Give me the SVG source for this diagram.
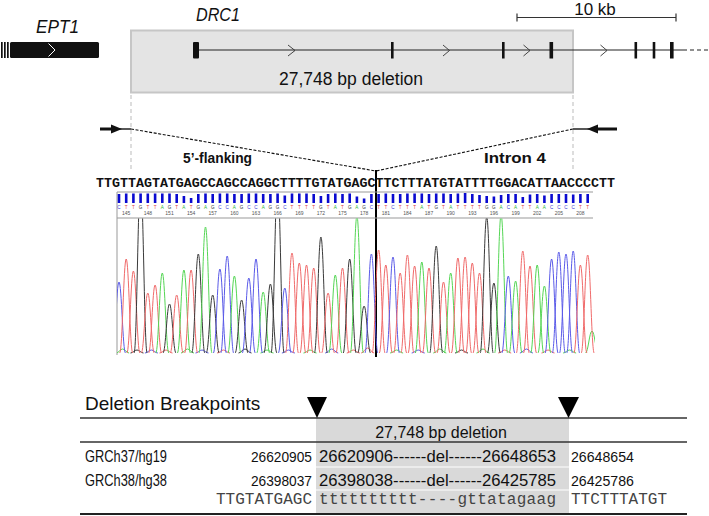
<svg xmlns="http://www.w3.org/2000/svg" xmlns:xlink="http://www.w3.org/1999/xlink" width="709" height="516" viewBox="0 0 709 516">
<style>
.sans{font-family:"Liberation Sans",Arial,sans-serif;fill:#111}
.ital{font-style:italic}
.bold{font-weight:bold}
.mono{font-family:"Liberation Mono","Courier New",monospace}
.r{stroke:#f06a6a}.g{stroke:#55d655}.b{stroke:#5a5ae8}.k{stroke:#3a3a3a}
.tr{fill:#e04040}.tg{fill:#2fb52f}.tb{fill:#4040d0}.tk{fill:#333}
.lt{font-family:"Liberation Sans",Arial,sans-serif;font-size:4.6px;text-anchor:middle}
.num{font-family:"Liberation Sans",Arial,sans-serif;font-size:5px;fill:#555;text-anchor:middle}
.bar{fill:#0a0ad0}
.chev{fill:none;stroke:#333;stroke-width:0.9}
</style>
<defs>
<path id="pk" d="M-6.5,0 C-3.8,0 -2.6,-1 0,-1 C2.6,-1 3.8,0 6.5,0" fill="none" stroke-width="1" vector-effect="non-scaling-stroke"/>
<clipPath id="trc"><rect x="117" y="218.5" width="478" height="142"/></clipPath>
</defs>

<!-- Gene map -->
<g id="ept1">
<text class="sans ital" x="36" y="33" font-size="19" textLength="43" lengthAdjust="spacingAndGlyphs">EPT1</text>
<rect x="1" y="42" width="1.7" height="16" fill="#111"/>
<rect x="4" y="42" width="1.7" height="16" fill="#111"/>
<rect x="7" y="42" width="1.7" height="16" fill="#111"/>
<rect x="10" y="42" width="89" height="16" rx="1.5" fill="#111"/>
<polyline points="48.5,43.5 55,50 48.5,56.5" fill="none" stroke="#fff" stroke-width="1"/>
</g>

<g id="deletion-box">
<rect x="131" y="30.5" width="442" height="62" fill="#e4e4e4" stroke="#c6c6c6" stroke-width="2"/>
<text class="sans" x="351" y="85" font-size="17.5" text-anchor="middle">27,748 bp deletion</text>
</g>

<g id="drc1">
<text class="sans ital" x="196" y="21" font-size="19" textLength="44" lengthAdjust="spacingAndGlyphs">DRC1</text>
<line x1="196" y1="50" x2="683" y2="50" stroke="#222" stroke-width="1.2"/>
<line x1="683" y1="50" x2="709" y2="50" stroke="#222" stroke-width="1.2" stroke-dasharray="4,3"/>
<rect x="193" y="42" width="6" height="16.5" rx="1" fill="#111"/>
<rect x="391" y="42" width="2.6" height="16.5" fill="#111"/>
<rect x="502" y="42" width="2.6" height="16.5" fill="#111"/>
<rect x="549.5" y="42" width="3.6" height="16.5" fill="#111"/>
<rect x="634.5" y="42" width="2.6" height="16.5" fill="#111"/>
<rect x="652.7" y="42" width="2.6" height="16.5" fill="#111"/>
<rect x="670" y="42" width="3.6" height="16.5" fill="#111"/>
<polyline class="chev" points="288,45 295,50.5 288,56"/>
<polyline class="chev" points="443,45 449.5,50.5 443,56"/>
<polyline class="chev" points="523.5,45 530,50.5 523.5,56"/>
<polyline class="chev" points="600.5,45 607,50.5 600.5,56"/>
</g>

<g id="scale-bar">
<text class="sans" x="595" y="15" font-size="17" text-anchor="middle">10 kb</text>
<line x1="517" y1="17.5" x2="676" y2="17.5" stroke="#333" stroke-width="1.2"/>
<line x1="517" y1="13.5" x2="517" y2="21.5" stroke="#333" stroke-width="1.2"/>
<line x1="676" y1="13.5" x2="676" y2="21.5" stroke="#333" stroke-width="1.2"/>
</g>

<!-- Connectors / zoom lines -->
<g id="connectors">
<line x1="131" y1="95" x2="131" y2="170" stroke="#bbb" stroke-width="1" stroke-dasharray="4,3"/>
<line x1="573" y1="95" x2="573" y2="170" stroke="#bbb" stroke-width="1" stroke-dasharray="4,3"/>
<line x1="131" y1="129" x2="376" y2="171" stroke="#111" stroke-width="1.1" stroke-dasharray="3,1.6"/>
<line x1="573" y1="129" x2="376" y2="171" stroke="#111" stroke-width="1.1" stroke-dasharray="3,1.6"/>
<line x1="100" y1="129" x2="116" y2="129" stroke="#111" stroke-width="3"/>
<line x1="115" y1="129" x2="131" y2="129" stroke="#111" stroke-width="1.4"/>
<polygon points="111,124.5 122,129 111,133.5" fill="#111"/>
<line x1="592" y1="129" x2="617" y2="129" stroke="#111" stroke-width="3"/>
<line x1="573" y1="129" x2="592" y2="129" stroke="#111" stroke-width="1.4"/>
<polygon points="598,124.5 587,129 598,133.5" fill="#111"/>
<line x1="376" y1="170" x2="376" y2="357" stroke="#000" stroke-width="2"/>
</g>

<g id="labels">
<text class="sans bold" x="183" y="163" font-size="14" textLength="69" lengthAdjust="spacingAndGlyphs">5’-flanking</text>
<text class="sans bold" x="484" y="163" font-size="15" textLength="62" lengthAdjust="spacingAndGlyphs">Intron 4</text>
<text class="mono bold" x="96" y="187" font-size="13.3" fill="#111" textLength="519" lengthAdjust="spacingAndGlyphs">TTGTTAGTATGAGCCAGCCAGGCTTTTGTATGAGCTTCTTTATGTATTTTGGACATTAACCCCTT</text>
</g>

<!-- Chromatogram -->
<g id="chromatogram">
<line x1="117" y1="192" x2="593" y2="192" stroke="#999" stroke-width="1"/>
<line x1="117" y1="218" x2="593" y2="218" stroke="#999" stroke-width="1"/>
<line x1="117" y1="192" x2="117" y2="355" stroke="#999" stroke-width="1"/>
<g id="quality-bars">
<rect class="bar" x="117.7" y="194" width="2.6" height="9"/>
<rect class="bar" x="124.9" y="193.5" width="2.6" height="9.5"/>
<rect class="bar" x="132.1" y="193.5" width="2.6" height="9.5"/>
<rect class="bar" x="139.3" y="193.5" width="2.6" height="9.5"/>
<rect class="bar" x="146.5" y="193.5" width="2.6" height="9.5"/>
<rect class="bar" x="153.8" y="193.5" width="2.6" height="9.5"/>
<rect class="bar" x="161" y="193.5" width="2.6" height="9.5"/>
<rect class="bar" x="168.2" y="193.5" width="2.6" height="9.5"/>
<rect class="bar" x="175.4" y="194" width="2.6" height="9"/>
<rect class="bar" x="182.6" y="196" width="2.6" height="7"/>
<rect class="bar" x="189.8" y="198" width="2.6" height="5"/>
<rect class="bar" x="197" y="194" width="2.6" height="9"/>
<rect class="bar" x="204.2" y="193.5" width="2.6" height="9.5"/>
<rect class="bar" x="211.4" y="194" width="2.6" height="9"/>
<rect class="bar" x="218.6" y="193.5" width="2.6" height="9.5"/>
<rect class="bar" x="225.9" y="193.5" width="2.6" height="9.5"/>
<rect class="bar" x="233.1" y="194" width="2.6" height="9"/>
<rect class="bar" x="240.3" y="194" width="2.6" height="9"/>
<rect class="bar" x="247.5" y="193.5" width="2.6" height="9.5"/>
<rect class="bar" x="254.7" y="193.5" width="2.6" height="9.5"/>
<rect class="bar" x="261.9" y="194" width="2.6" height="9"/>
<rect class="bar" x="269.1" y="194" width="2.6" height="9"/>
<rect class="bar" x="276.3" y="193.5" width="2.6" height="9.5"/>
<rect class="bar" x="283.5" y="195.5" width="2.6" height="7.5"/>
<rect class="bar" x="290.7" y="193.5" width="2.6" height="9.5"/>
<rect class="bar" x="298" y="193.5" width="2.6" height="9.5"/>
<rect class="bar" x="305.2" y="193.5" width="2.6" height="9.5"/>
<rect class="bar" x="312.4" y="194" width="2.6" height="9"/>
<rect class="bar" x="319.6" y="196" width="2.6" height="7"/>
<rect class="bar" x="326.8" y="194" width="2.6" height="9"/>
<rect class="bar" x="334" y="193.5" width="2.6" height="9.5"/>
<rect class="bar" x="341.2" y="194" width="2.6" height="9"/>
<rect class="bar" x="348.4" y="193.5" width="2.6" height="9.5"/>
<rect class="bar" x="355.6" y="196.5" width="2.6" height="6.5"/>
<rect class="bar" x="362.8" y="198.5" width="2.6" height="4.5"/>
<rect class="bar" x="370.1" y="194" width="2.6" height="9"/>
<rect class="bar" x="377.3" y="194" width="2.6" height="9"/>
<rect class="bar" x="384.5" y="193.5" width="2.6" height="9.5"/>
<rect class="bar" x="391.7" y="194" width="2.6" height="9"/>
<rect class="bar" x="398.9" y="194" width="2.6" height="9"/>
<rect class="bar" x="406.1" y="193.5" width="2.6" height="9.5"/>
<rect class="bar" x="413.3" y="193.5" width="2.6" height="9.5"/>
<rect class="bar" x="420.5" y="193.5" width="2.6" height="9.5"/>
<rect class="bar" x="427.7" y="194" width="2.6" height="9"/>
<rect class="bar" x="434.9" y="193.5" width="2.6" height="9.5"/>
<rect class="bar" x="442.2" y="193.5" width="2.6" height="9.5"/>
<rect class="bar" x="449.4" y="194" width="2.6" height="9"/>
<rect class="bar" x="456.6" y="193.5" width="2.6" height="9.5"/>
<rect class="bar" x="463.8" y="193" width="2.6" height="10"/>
<rect class="bar" x="471" y="194" width="2.6" height="9"/>
<rect class="bar" x="478.2" y="195" width="2.6" height="8"/>
<rect class="bar" x="485.4" y="196" width="2.6" height="7"/>
<rect class="bar" x="492.6" y="196.5" width="2.6" height="6.5"/>
<rect class="bar" x="499.8" y="195" width="2.6" height="8"/>
<rect class="bar" x="507" y="194" width="2.6" height="9"/>
<rect class="bar" x="514.3" y="194" width="2.6" height="9"/>
<rect class="bar" x="521.5" y="197" width="2.6" height="6"/>
<rect class="bar" x="528.7" y="194.5" width="2.6" height="8.5"/>
<rect class="bar" x="535.9" y="194" width="2.6" height="9"/>
<rect class="bar" x="543.1" y="195.5" width="2.6" height="7.5"/>
<rect class="bar" x="550.3" y="194" width="2.6" height="9"/>
<rect class="bar" x="557.5" y="194" width="2.6" height="9"/>
<rect class="bar" x="564.7" y="194" width="2.6" height="9"/>
<rect class="bar" x="571.9" y="194.5" width="2.6" height="8.5"/>
<rect class="bar" x="579.1" y="194" width="2.6" height="9"/>
<rect class="bar" x="586.4" y="194" width="2.6" height="9"/>
</g>
<g id="base-calls">
<text class="lt" y="209" x="119.0 126.2 133.4 140.6 147.8 155.1 162.3 169.5 176.7 183.9 191.1 198.3 205.5 212.7 219.9 227.2 234.4 241.6 248.8 256.0 263.2 270.4 277.6 284.8 292.0 299.3 306.5 313.7 320.9 328.1 335.3 342.5 349.7 356.9 364.1 371.4 378.6 385.8 393.0 400.2 407.4 414.6 421.8 429.0 436.2 443.5 450.7 457.9 465.1 472.3 479.5 486.7 493.9 501.1 508.3 515.6 522.8 530.0 537.2 544.4 551.6 558.8 566.0 573.2 580.4 587.7"><tspan class="tb">C</tspan><tspan class="tr">TT</tspan><tspan class="tk">G</tspan><tspan class="tr">TT</tspan><tspan class="tg">A</tspan><tspan class="tk">G</tspan><tspan class="tr">T</tspan><tspan class="tg">A</tspan><tspan class="tr">T</tspan><tspan class="tk">G</tspan><tspan class="tg">A</tspan><tspan class="tk">G</tspan><tspan class="tb">CC</tspan><tspan class="tg">A</tspan><tspan class="tk">G</tspan><tspan class="tb">CC</tspan><tspan class="tg">A</tspan><tspan class="tk">GG</tspan><tspan class="tb">C</tspan><tspan class="tr">TTTT</tspan><tspan class="tk">G</tspan><tspan class="tr">T</tspan><tspan class="tg">A</tspan><tspan class="tr">T</tspan><tspan class="tk">G</tspan><tspan class="tg">A</tspan><tspan class="tk">G</tspan><tspan class="tb">C</tspan><tspan class="tr">TT</tspan><tspan class="tb">C</tspan><tspan class="tr">TTT</tspan><tspan class="tg">A</tspan><tspan class="tr">T</tspan><tspan class="tk">G</tspan><tspan class="tr">T</tspan><tspan class="tg">A</tspan><tspan class="tr">TTTT</tspan><tspan class="tk">GG</tspan><tspan class="tg">A</tspan><tspan class="tb">C</tspan><tspan class="tg">A</tspan><tspan class="tr">TT</tspan><tspan class="tg">AA</tspan><tspan class="tb">CCCC</tspan><tspan class="tr">TT</tspan></text>
</g>
<g id="positions">
<text class="num" x="126.2" y="215">145</text>
<text class="num" x="147.8" y="215">148</text>
<text class="num" x="169.5" y="215">151</text>
<text class="num" x="191.1" y="215">154</text>
<text class="num" x="212.7" y="215">157</text>
<text class="num" x="234.4" y="215">160</text>
<text class="num" x="256.0" y="215">163</text>
<text class="num" x="277.6" y="215">166</text>
<text class="num" x="299.3" y="215">169</text>
<text class="num" x="320.9" y="215">172</text>
<text class="num" x="342.5" y="215">175</text>
<text class="num" x="364.1" y="215">178</text>
<text class="num" x="385.8" y="215">181</text>
<text class="num" x="407.4" y="215">184</text>
<text class="num" x="429.0" y="215">187</text>
<text class="num" x="450.7" y="215">190</text>
<text class="num" x="472.3" y="215">193</text>
<text class="num" x="493.9" y="215">196</text>
<text class="num" x="515.6" y="215">199</text>
<text class="num" x="537.2" y="215">202</text>
<text class="num" x="558.8" y="215">205</text>
<text class="num" x="580.4" y="215">208</text>
</g>
<g id="traces" clip-path="url(#trc)">
<!-- baseline noise -->
<use xlink:href="#pk" class="g" transform="translate(122.6,353) scale(1,4)"/>
<use xlink:href="#pk" class="k" transform="translate(137,353) scale(1,3)"/>
<use xlink:href="#pk" class="b" transform="translate(151.4,353) scale(1,3)"/>
<use xlink:href="#pk" class="r" transform="translate(166,353) scale(1,3)"/>
<use xlink:href="#pk" class="g" transform="translate(187.5,353) scale(1,4)"/>
<use xlink:href="#pk" class="b" transform="translate(202,353) scale(1,3)"/>
<use xlink:href="#pk" class="r" transform="translate(223.5,353) scale(1,3)"/>
<use xlink:href="#pk" class="k" transform="translate(245,353) scale(1,4)"/>
<use xlink:href="#pk" class="g" transform="translate(267,353) scale(1,3)"/>
<use xlink:href="#pk" class="b" transform="translate(288.4,353) scale(1,3)"/>
<use xlink:href="#pk" class="g" transform="translate(310,353) scale(1,3)"/>
<use xlink:href="#pk" class="b" transform="translate(331.7,353) scale(1,4)"/>
<use xlink:href="#pk" class="r" transform="translate(353.3,353) scale(1,3)"/>
<use xlink:href="#pk" class="r" transform="translate(367.7,353) scale(1,5)"/>
<use xlink:href="#pk" class="g" transform="translate(396.6,353) scale(1,3)"/>
<use xlink:href="#pk" class="b" transform="translate(418.2,353) scale(1,3)"/>
<use xlink:href="#pk" class="g" transform="translate(439.8,353) scale(1,4)"/>
<use xlink:href="#pk" class="k" transform="translate(461.5,353) scale(1,3)"/>
<use xlink:href="#pk" class="g" transform="translate(483,353) scale(1,4)"/>
<use xlink:href="#pk" class="r" transform="translate(504.7,353) scale(1,3)"/>
<use xlink:href="#pk" class="b" transform="translate(526.4,353) scale(1,4)"/>
<use xlink:href="#pk" class="r" transform="translate(548,353) scale(1,3)"/>
<use xlink:href="#pk" class="g" transform="translate(569.6,353) scale(1,3)"/>
<use xlink:href="#pk" class="g" transform="translate(592,353) scale(1,22)"/>
<!-- called peaks -->
<use xlink:href="#pk" class="b" transform="translate(119.0,353) scale(1,71)"/>
<use xlink:href="#pk" class="r" transform="translate(126.2,353) scale(1,94)"/>
<use xlink:href="#pk" class="r" transform="translate(133.4,353) scale(1,82)"/>
<use xlink:href="#pk" class="k" transform="translate(140.6,353) scale(1,170)"/>
<use xlink:href="#pk" class="r" transform="translate(147.8,353) scale(1,60)"/>
<use xlink:href="#pk" class="r" transform="translate(155.1,353) scale(1,68)"/>
<use xlink:href="#pk" class="g" transform="translate(162.3,353) scale(1,80)"/>
<use xlink:href="#pk" class="k" transform="translate(169.5,353) scale(1,49)"/>
<use xlink:href="#pk" class="r" transform="translate(176.7,353) scale(1,58)"/>
<use xlink:href="#pk" class="g" transform="translate(183.9,353) scale(1,83)"/>
<use xlink:href="#pk" class="r" transform="translate(191.1,353) scale(1,83)"/>
<use xlink:href="#pk" class="k" transform="translate(198.3,353) scale(1,99)"/>
<use xlink:href="#pk" class="g" transform="translate(205.5,353) scale(1,126)"/>
<use xlink:href="#pk" class="k" transform="translate(212.7,353) scale(1,58)"/>
<use xlink:href="#pk" class="b" transform="translate(219.9,353) scale(1,84)"/>
<use xlink:href="#pk" class="b" transform="translate(227.2,353) scale(1,97)"/>
<use xlink:href="#pk" class="g" transform="translate(234.4,353) scale(1,77)"/>
<use xlink:href="#pk" class="k" transform="translate(241.6,353) scale(1,53)"/>
<use xlink:href="#pk" class="b" transform="translate(248.8,353) scale(1,75)"/>
<use xlink:href="#pk" class="b" transform="translate(256.0,353) scale(1,94)"/>
<use xlink:href="#pk" class="g" transform="translate(263.2,353) scale(1,61)"/>
<use xlink:href="#pk" class="k" transform="translate(270.4,353) scale(1,69)"/>
<use xlink:href="#pk" class="k" transform="translate(277.6,353) scale(1,170)"/>
<use xlink:href="#pk" class="b" transform="translate(284.8,353) scale(1,65)"/>
<use xlink:href="#pk" class="r" transform="translate(292.0,353) scale(1,100)"/>
<use xlink:href="#pk" class="r" transform="translate(299.3,353) scale(1,90)"/>
<use xlink:href="#pk" class="r" transform="translate(306.5,353) scale(1,88)"/>
<use xlink:href="#pk" class="r" transform="translate(313.7,353) scale(1,85)"/>
<use xlink:href="#pk" class="k" transform="translate(320.9,353) scale(1,116)"/>
<use xlink:href="#pk" class="r" transform="translate(328.1,353) scale(1,60)"/>
<use xlink:href="#pk" class="g" transform="translate(335.3,353) scale(1,78)"/>
<use xlink:href="#pk" class="r" transform="translate(342.5,353) scale(1,85)"/>
<use xlink:href="#pk" class="k" transform="translate(349.7,353) scale(1,94)"/>
<use xlink:href="#pk" class="g" transform="translate(356.9,353) scale(1,137)"/>
<use xlink:href="#pk" class="k" transform="translate(364.1,353) scale(1,47)"/>
<use xlink:href="#pk" class="b" transform="translate(371.4,353) scale(1,99)"/>
<use xlink:href="#pk" class="r" transform="translate(378.6,353) scale(1,103)"/>
<use xlink:href="#pk" class="r" transform="translate(385.8,353) scale(1,88)"/>
<use xlink:href="#pk" class="b" transform="translate(393.0,353) scale(1,96)"/>
<use xlink:href="#pk" class="r" transform="translate(400.2,353) scale(1,80)"/>
<use xlink:href="#pk" class="r" transform="translate(407.4,353) scale(1,98)"/>
<use xlink:href="#pk" class="r" transform="translate(414.6,353) scale(1,87)"/>
<use xlink:href="#pk" class="g" transform="translate(421.8,353) scale(1,91)"/>
<use xlink:href="#pk" class="r" transform="translate(429.0,353) scale(1,85)"/>
<use xlink:href="#pk" class="k" transform="translate(436.2,353) scale(1,107)"/>
<use xlink:href="#pk" class="r" transform="translate(443.5,353) scale(1,71)"/>
<use xlink:href="#pk" class="g" transform="translate(450.7,353) scale(1,80)"/>
<use xlink:href="#pk" class="r" transform="translate(457.9,353) scale(1,95)"/>
<use xlink:href="#pk" class="r" transform="translate(465.1,353) scale(1,96)"/>
<use xlink:href="#pk" class="r" transform="translate(472.3,353) scale(1,90)"/>
<use xlink:href="#pk" class="r" transform="translate(479.5,353) scale(1,80)"/>
<use xlink:href="#pk" class="k" transform="translate(486.7,353) scale(1,136)"/>
<use xlink:href="#pk" class="k" transform="translate(493.9,353) scale(1,70)"/>
<use xlink:href="#pk" class="g" transform="translate(501.1,353) scale(1,138)"/>
<use xlink:href="#pk" class="b" transform="translate(508.3,353) scale(1,77)"/>
<use xlink:href="#pk" class="g" transform="translate(515.6,353) scale(1,72)"/>
<use xlink:href="#pk" class="r" transform="translate(522.8,353) scale(1,102)"/>
<use xlink:href="#pk" class="r" transform="translate(530.0,353) scale(1,87)"/>
<use xlink:href="#pk" class="g" transform="translate(537.2,353) scale(1,88)"/>
<use xlink:href="#pk" class="g" transform="translate(544.4,353) scale(1,67)"/>
<use xlink:href="#pk" class="b" transform="translate(551.6,353) scale(1,94)"/>
<use xlink:href="#pk" class="b" transform="translate(558.8,353) scale(1,101)"/>
<use xlink:href="#pk" class="b" transform="translate(566.0,353) scale(1,99)"/>
<use xlink:href="#pk" class="b" transform="translate(573.2,353) scale(1,102)"/>
<use xlink:href="#pk" class="r" transform="translate(580.4,353) scale(1,88)"/>
<use xlink:href="#pk" class="r" transform="translate(587.7,353) scale(1,98)"/>
</g>
</g>

<!-- Deletion breakpoints table -->
<g id="breakpoint-table">
<text class="sans" x="85" y="410" font-size="19">Deletion Breakpoints</text>
<rect x="316" y="418" width="253" height="95" fill="#d9d9d9"/>
<line x1="316" y1="467" x2="569" y2="467" stroke="#fff" stroke-width="1.2"/>
<line x1="316" y1="490" x2="569" y2="490" stroke="#fff" stroke-width="1.2"/>
<line x1="80" y1="418" x2="687" y2="418" stroke="#333" stroke-width="1.5"/>
<line x1="80" y1="442" x2="687" y2="442" stroke="#333" stroke-width="1.3"/>
<line x1="80" y1="514" x2="687" y2="514" stroke="#222" stroke-width="2"/>
<polygon points="307,397 327,397 317,418" fill="#000"/>
<polygon points="558,397 579,397 568.5,418" fill="#000"/>
<text class="sans" x="441" y="438" font-size="16" text-anchor="middle">27,748 bp deletion</text>
<text class="sans" x="85" y="462" font-size="16" textLength="82" lengthAdjust="spacingAndGlyphs">GRCh37/hg19</text>
<text class="sans" x="312" y="462" font-size="15" text-anchor="end" textLength="61" lengthAdjust="spacingAndGlyphs">26620905</text>
<text class="sans" x="319" y="462" font-size="16.5" textLength="237" lengthAdjust="spacingAndGlyphs">26620906------del------26648653</text>
<text class="sans" x="571" y="462" font-size="15" textLength="63" lengthAdjust="spacingAndGlyphs">26648654</text>
<text class="sans" x="85" y="486" font-size="16" textLength="82" lengthAdjust="spacingAndGlyphs">GRCh38/hg38</text>
<text class="sans" x="312" y="486" font-size="15" text-anchor="end" textLength="61" lengthAdjust="spacingAndGlyphs">26398037</text>
<text class="sans" x="319" y="486" font-size="16.5" textLength="237" lengthAdjust="spacingAndGlyphs">26398038------del------26425785</text>
<text class="sans" x="571" y="486" font-size="15" textLength="63" lengthAdjust="spacingAndGlyphs">26425786</text>
<text class="mono" x="312" y="504" font-size="16" fill="#444" text-anchor="end">TTGTATGAGC</text>
<text class="mono" x="319" y="504" font-size="16" fill="#444" textLength="237" lengthAdjust="spacing">tttttttttt----gttatagaag</text>
<text class="mono" x="571" y="504" font-size="16" fill="#444">TTCTTTATGT</text>
</g>
</svg>
